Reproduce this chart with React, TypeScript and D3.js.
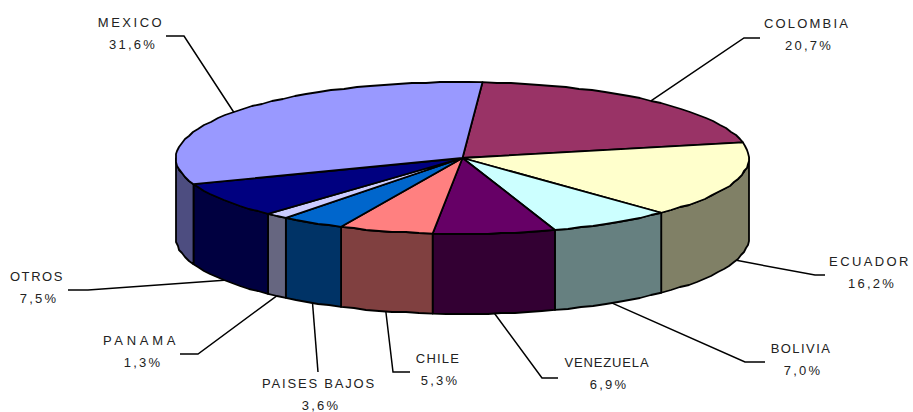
import React from 'react';
import * as d3 from 'd3';

const countries = ['COLOMBIA', 'ECUADOR', 'BOLIVIA', 'VENEZUELA', 'CHILE', 'PAISES BAJOS', 'PANAMA', 'OTROS', 'MEXICO'];
const shares = [20.7, 16.2, 7.0, 6.9, 5.3, 3.6, 1.3, 7.5, 31.6];
const shareLabels = ['20,7%', '16,2%', '7,0%', '6,9%', '5,3%', '3,6%', '1,3%', '7,5%', '31,6%'];
const colours = ['#993366', '#ffffcc', '#ccffff', '#660066', '#ff8080', '#0066cc', '#ccccff', '#000080', '#9999ff'];

// label placement, same order as countries: [text centre x, name baseline, elbow x, elbow y, leader end x, letter spacing]
const labelLayout = [
  [807, 28, 744, 38, 760, 2.2],
  [870, 266, 815, 275, 825, 2.4],
  [801, 353, 745, 362, 765, 1.45],
  [607, 367, 542, 378, 558, 0.85],
  [438, 363, 393, 372, 410, 1.2],
  [319, 387.5, 318, 372, 318, 1.8],
  [141, 345, 198, 354, 180, 3.7],
  [37, 281, 88, 290, 68, 1.6],
  [131, 27, 184, 36, 166, 2.5],
];

const width = 913;
const height = 412;
const cx = 462.5;
const cy = 158;
const rx = 286.5;
const ry = 76;
const depth = 80;
const firstAngle = (4 * Math.PI) / 180;
const frontSkew = -0.0125; // front slices sit a little back from where the angles put them

const pie = d3.pie<number>().sort(null).startAngle(firstAngle).endAngle(firstAngle + 2 * Math.PI);

// angle runs clockwise from the top of the ellipse
const onRim = (a: number, dy = 0): [number, number] => {
  const t = a + (frontSkew * (1 - Math.cos(a))) / 2;
  return [cx + rx * Math.sin(t), cy - ry * Math.cos(t) + dy];
};

// the original outline is slightly scalloped, so sample coarsely and snap to pixels
const rim = (a0: number, a1: number, dy = 0): [number, number][] => {
  const n = Math.max(1, Math.ceil((a1 - a0) / 0.05));
  return d3.range(n + 1).map((i) => {
    const [x, y] = onRim(a0 + ((a1 - a0) * i) / n, dy);
    return i === 0 || i === n ? [x, y] : [Math.round(x), Math.round(y)];
  });
};

const line = d3.line();

const shade = (c: string) => {
  const { r, g, b } = d3.rgb(c);
  return d3.rgb(r * 0.5, g * 0.5, b * 0.5).formatHex();
};

const isFront = (a: number) => {
  const t = ((a % (2 * Math.PI)) + 2 * Math.PI) % (2 * Math.PI);
  return t > Math.PI / 2 && t < (3 * Math.PI) / 2;
};

const App = () => {
  const arcs = pie(shares);

  return (
    <svg
      width={width}
      height={height}
      style={{ position: 'absolute', left: 0, top: 0, fontFamily: '"Liberation Sans", Arial, sans-serif' }}
    >
      <g stroke="#000" strokeWidth={1.8} strokeLinejoin="round">
        {arcs.map((d, i) => {
          // the side wall only shows on the front half of the pie
          const fronts = [0, 2 * Math.PI].map((off) => [
            Math.max(d.startAngle, Math.PI / 2 + off),
            Math.min(d.endAngle, (3 * Math.PI) / 2 + off),
          ]);
          return fronts
            .filter(([a0, a1]) => a1 > a0)
            .map(([a0, a1]) => {
              const pts = [...rim(a0, a1), ...rim(a0, a1, depth).reverse()];
              return <path key={`${i}-${a0}`} d={`${line(pts)}Z`} fill={shade(colours[i])} />;
            });
        })}
        {arcs.map((d, i) => {
          const pts: [number, number][] = [[cx, cy], ...rim(d.startAngle, d.endAngle)];
          return <path key={countries[i]} d={`${line(pts)}Z`} fill={colours[i]} />;
        })}
      </g>
      <g fill="none" stroke="#000" strokeWidth={1.5}>
        {arcs.map((d, i) => {
          const mid = (d.startAngle + d.endAngle) / 2;
          const [, , ex, ey, endX] = labelLayout[i];
          const start = onRim(mid, isFront(mid) ? depth : 0);
          return <path key={countries[i]} d={line([start, [ex, ey], [endX, ey]]) as string} />;
        })}
      </g>
      <g fontSize={13} fill="#222" textAnchor="middle">
        {countries.map((name, i) => {
          const [x, y, , , , spacing] = labelLayout[i];
          return (
            <g key={name}>
              <text x={x} y={y} letterSpacing={spacing}>{name}</text>
              <text x={x + 2} y={y + 22} letterSpacing={2.2}>{shareLabels[i]}</text>
            </g>
          );
        })}
      </g>
    </svg>
  );
};

export default App;
